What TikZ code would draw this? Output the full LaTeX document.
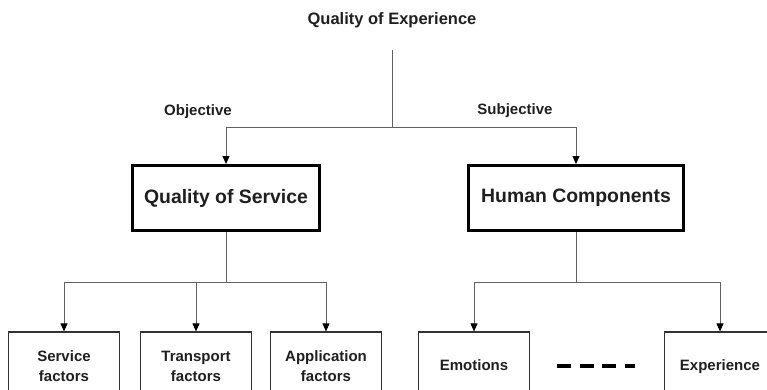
\documentclass[tikz,border=0pt]{standalone}
\usepackage{fontspec}
\setmainfont{Liberation Sans}
\usetikzlibrary{arrows.meta}
\definecolor{linegray}{gray}{0.38}
\definecolor{boxgray}{gray}{0.2}
\definecolor{textgray}{gray}{0.12}
\tikzset{
    MainBox/.style = {draw=black, line width=3pt, minimum width=187pt, minimum height=65pt,
        text=textgray, font=\bfseries\fontsize{19.4}{23}\selectfont},
    FactorBox/.style = {draw=boxgray, line width=1.2pt, minimum width=111pt, minimum height=68pt,
        align=center, text=textgray, font=\bfseries\fontsize{15}{20}\selectfont},
    OneLine/.style = {text height=11pt, text depth=3pt},
    LabelStyle/.style = {inner sep=0pt, text=textgray, font=\bfseries\fontsize{15}{18}\selectfont},
    Link/.style = {draw=linegray, line width=1pt},
    ArrowLink/.style = {Link, -{Triangle[length=8pt,width=7pt,color=black]}},
    DashLink/.style = {draw=black, line width=4pt, dash pattern=on 14pt off 8.5pt}
}

\begin{document}
\begin{tikzpicture}[x=1pt,y=-1pt]
    \useasboundingbox (0,0) rectangle (767,389);
    %\draw[help lines,step=50] (0,0) grid (767,389);
    \node[LabelStyle, font=\bfseries\fontsize{16.5}{20}\selectfont] (qoe) at (392,20) {Quality of Experience};
    \node[LabelStyle] (obj) at (198,112) {Objective};
    \node[LabelStyle] (subj) at (515,111) {Subjective};

    \node[MainBox] (qos) at (226,198) {Quality of Service};
    \node[MainBox, minimum width=215pt] (hum) at (576,198) {Human Components};

    \node[FactorBox] (serv) at (64,366) {Service\\factors};
    \node[FactorBox] (trans) at (196,366) {Transport\\factors};
    \node[FactorBox] (appl) at (326,366) {Application\\factors};
    \node[FactorBox, OneLine] (emo) at (474,366) {Emotions};
    \node[FactorBox, OneLine] (exper) at (720,366) {Experience};

    \coordinate (qoesplit) at (392,127);
    \coordinate (qossplit) at (226,282);
    \coordinate (humsplit) at (576,282);

    % top level
    \draw[Link, shorten <=22pt] (qoe) -- (qoesplit);
    \draw[ArrowLink] (qoesplit) -| (qos);
    \draw[ArrowLink] (qoesplit) -| (hum);

    % objective side
    \draw[Link] (qos) -- (qossplit);
    \draw[ArrowLink] (qossplit) -| (serv);
    \draw[ArrowLink] (qossplit) -| (trans);
    \draw[ArrowLink] (qossplit) -| (appl);

    % subjective side
    \draw[Link] (hum) -- (humsplit);
    \draw[ArrowLink] (humsplit) -| (emo);
    \draw[ArrowLink] (humsplit) -| (exper);
    \draw[DashLink, shorten <=27pt, shorten >=29pt] (emo) -- (exper);
\end{tikzpicture}
\end{document}
